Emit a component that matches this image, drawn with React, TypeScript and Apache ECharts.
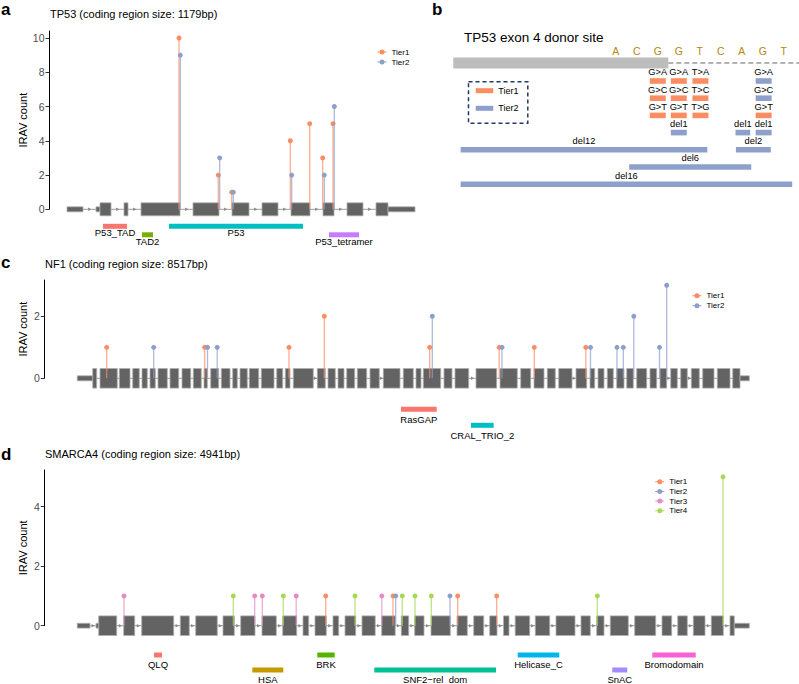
import React, { useEffect, useRef } from "react";
import * as echarts from "echarts";

const FONT = "'Liberation Sans', Arial, Helvetica, sans-serif";

const tierNames = ["Tier1", "Tier2", "Tier3", "Tier4"];
const tierColors = ["#FC8D62", "#8DA0CB", "#E78AC3", "#A6D854"];

// ---------- Panel a : TP53 (track units from gene start) ----------
const tp53Title = "TP53 (coding region size: 1179bp)";
const tp53Exons = [
  [0, 16, 1], [29, 33, 1], [33, 44, 0], [57, 61, 0], [74, 113, 0], [126, 152, 0], [165, 182, 0],
  [195, 211, 0], [224, 243, 0], [256, 267, 0], [280, 296, 0], [309, 321, 0], [321, 348, 1],
];
const tp53Tier1 = [[112, 10], [151.3, 2], [164.7, 1], [223.3, 4], [242.7, 5], [255.7, 3], [266, 5]];
const tp53Tier2 = [[113.3, 9], [152.7, 3], [166.3, 1], [224.7, 2], [257.3, 2], [267.3, 6]];
const tp53DomainNames = ["P53_TAD", "TAD2", "P53", "P53_tetramer"];
const tp53DomainRanges = [[36, 60], [75, 86], [102, 236], [262, 292]];
const tp53DomainColors = ["#F8766D", "#7CAE00", "#00BFC4", "#C77CFF"];
const tp53Ticks = [0, 2, 4, 6, 8, 10];

// ---------- Panel b : TP53 exon 4 donor site (nucleotide units, 0 = exon/intron boundary) ----------
const donorTitle = "TP53 exon 4 donor site";
const seqLetters = ["A", "C", "G", "G", "T", "C", "A", "G", "T"];
const seqPositions = [-2.5, -1.5, -0.5, 0.5, 1.5, 2.5, 3.5, 4.5, 5.5];
const exonBackbone = [-10.24, 0];
const intronBackbone = [0, 6.25];
// [start, end, track row]
const donorTier1Ranges = [
  [-0.88, -0.12, 0], [-0.88, -0.12, 1], [-0.88, -0.12, 2],
  [0.12, 0.88, 0], [0.12, 0.88, 1], [0.12, 0.88, 2],
  [1.15, 1.91, 0], [1.15, 1.91, 1], [1.15, 1.91, 2],
  [4.16, 4.92, 2],
];
const donorTier1Labels = ["G>A", "G>C", "G>T", "G>A", "G>C", "G>T", "T>A", "T>C", "T>G", "G>T"];
const donorTier2Ranges = [
  [4.16, 4.92, 0], [4.16, 4.92, 1],
  [0.12, 0.88, 3], [3.2, 3.9, 3], [4.16, 4.92, 3],
  [-9.89, 1.86, 4], [3.22, 4.88, 4],
  [-1.86, 3.95, 5],
  [-9.89, 5.9, 6],
];
const donorTier2Labels = ["G>A", "G>C", "del1", "del1", "del1", "del12", "del2", "del6", "del16"];

// ---------- Panel c : NF1 ----------
const nf1Title = "NF1 (coding region size: 8517bp)";
const nf1Exons = [
  [0, 15.4, 1], [15.4, 19.4, 0], [22.7, 40, 0], [42, 52.7, 0], [55.4, 62, 0], [64.7, 70, 0], [72.7, 78, 0],
  [80.7, 90, 0], [92.7, 101.4, 0], [104.7, 113.4, 0], [116, 124, 0], [126.7, 130, 0], [133.4, 141.4, 0],
  [144, 152.7, 0], [155.4, 160, 0], [162.7, 170, 0], [172, 181.4, 0], [184, 196.7, 0], [199.4, 205.4, 0],
  [208, 212.7, 0], [216, 236, 0], [240, 248, 0], [250.7, 258, 0], [260.7, 266.7, 0], [269.4, 277.4, 0],
  [280, 289.4, 0], [292.7, 302, 0], [306, 322.7, 0], [326, 336, 0], [338.7, 343.7, 0], [346, 363.4, 0],
  [366.7, 374.7, 0], [377.7, 391.4, 0], [398.7, 419.4, 0], [422.7, 440, 0], [443.4, 453.4, 0],
  [456.7, 466.7, 0], [470, 478, 0], [481.4, 494.7, 0], [498.7, 509.4, 0], [512.7, 517.4, 0],
  [520.7, 526.7, 0], [530, 536, 0], [539.4, 546.7, 0], [549.4, 556, 0], [559.4, 569.4, 0],
  [572.7, 579.4, 0], [582.7, 589.4, 0], [593.4, 600, 0], [603.4, 610, 0], [614, 622, 0],
  [625.4, 636.7, 0], [640, 652.7, 0], [655.4, 662.7, 0], [662.7, 672, 1],
];
const nf1Tier1 = [[29.4, 1], [127.4, 1], [211.7, 1], [247, 2], [352.4, 1], [421.9, 1], [457, 1], [508.5, 1]];
const nf1Tier2 = [[76.4, 1], [130.2, 1], [139.9, 1], [355, 2], [424.7, 1], [513.2, 1], [539.7, 1], [546, 1], [556.5, 2], [582.2, 1], [589.4, 3]];
const nf1DomainNames = ["RasGAP", "CRAL_TRIO_2"];
const nf1DomainRanges = [[323.7, 359.4], [393.7, 416.4]];
const nf1DomainColors = ["#F8766D", "#00BFC4"];
const nf1Ticks = [0, 2];

// ---------- Panel d : SMARCA4 ----------
const smarcaTitle = "SMARCA4 (coding region size: 4941bp)";
const smarcaExons = [
  [0, 12.7, 1], [18.7, 21.4, 1], [21.4, 39.4, 0], [46.4, 57.4, 0], [64.4, 96.4, 0], [103, 112, 0],
  [118.4, 140, 0], [145.7, 157, 0], [163.4, 177.7, 0], [184.7, 199, 0], [205.4, 219.4, 0],
  [225.7, 231.4, 0], [237.7, 249, 0], [255.7, 261.4, 0], [267.7, 278.4, 0], [284.7, 297.9, 0],
  [304.4, 317.9, 0], [324, 331.4, 0], [337.4, 346.7, 0], [353.7, 373, 0], [379.7, 390, 0],
  [396.4, 406.4, 0], [412.4, 419.7, 0], [426.2, 431.7, 0], [437.9, 452.4, 0], [458, 472.4, 0],
  [478.7, 497.7, 0], [503.7, 513, 0], [519.4, 526.7, 0], [533, 551, 0], [557.4, 578.4, 0],
  [584.7, 594.4, 0], [600.4, 610, 0], [616, 627.7, 0], [634, 646, 0], [652.7, 657, 0], [657, 672, 1],
];
const smarcaTier1 = [[248.4, 1], [315.7, 1], [380.4, 1], [419.4, 1]];
const smarcaTier2 = [[318.4, 1], [372.7, 1]];
const smarcaTier3 = [[46.7, 1], [177.4, 1], [185, 1], [218.9, 1], [304.5, 1]];
const smarcaTier4 = [[156, 1], [206, 1], [277.7, 1], [325, 1], [337.7, 1], [354, 1], [520, 1], [645.7, 5]];
const smarcaDomainNames = ["QLQ", "HSA", "BRK", "SNF2\u2212rel_dom", "Helicase_C", "SnAC", "Bromodomain"];
const smarcaDomainRanges = [[76.7, 84.7], [175, 206], [240, 257.4], [297, 418.7], [440.4, 482], [535, 550], [575, 618.4]];
const smarcaDomainColors = ["#F8766D", "#C49A00", "#53B400", "#00C094", "#00B6EB", "#A58AFF", "#FB61D7"];
const smarcaTicks = [0, 2, 4];

const LOLLI_ICON = "path://M0,2H9V3H0Z M2,2.5A2.5,2.5,0,1,1,7,2.5A2.5,2.5,0,1,1,2,2.5Z";

function intronSeries(gi: number, exons: number[][]) {
  const first = exons[0][0];
  const last = exons[exons.length - 1][1];
  return {
    type: "custom", xAxisIndex: gi, yAxisIndex: gi, silent: true, z: 1,
    data: [[first, last, 0]], encode: { x: [0, 1], y: 2 },
    renderItem: (params: any, api: any) => {
      const a = api.coord([api.value(0), 0]);
      const b = api.coord([api.value(1), 0]);
      const children: any[] = [
        { type: "line", shape: { x1: a[0], y1: a[1], x2: b[0], y2: b[1] }, style: { stroke: "#9c9c9c", lineWidth: 1 } },
      ];
      for (let i = 0; i < exons.length - 1; i++) {
        const g0 = exons[i][1];
        const g1 = exons[i + 1][0];
        if (g1 - g0 < 4) continue;
        const m = api.coord([(g0 + g1) / 2, 0]);
        children.push({
          type: "polygon",
          shape: { points: [[m[0] - 1.4, m[1] - 1.8], [m[0] + 1.8, m[1]], [m[0] - 1.4, m[1] + 1.8]] },
          style: { fill: "#8a8a8a" },
        });
      }
      return { type: "group", children };
    },
  };
}

function exonSeries(gi: number, exons: number[][], fullH: number, utrH: number) {
  return {
    type: "custom", xAxisIndex: gi, yAxisIndex: gi, silent: true, z: 2,
    data: exons, encode: { x: [0, 1], y: 2 },
    renderItem: (params: any, api: any) => {
      const s = api.coord([api.value(0), 0]);
      const e = api.coord([api.value(1), 0]);
      const h = api.value(2) ? utrH : fullH;
      return {
        type: "rect",
        shape: { x: s[0], y: s[1] - h / 2, width: e[0] - s[0], height: h },
        style: { fill: "#636363", stroke: "#adadad", lineWidth: 0.8 },
      };
    },
  };
}

function domainSeries(gi: number, names: string[], ranges: number[][], colors: string[], barOff: number, rowStep: number, labelOff: number) {
  return {
    type: "custom", xAxisIndex: gi, yAxisIndex: gi, silent: true, z: 2,
    data: ranges.map((r, i) => [r[0], r[1], i % 2]), encode: { x: [0, 1], y: 2 },
    renderItem: (params: any, api: any) => {
      const i = params.dataIndex;
      const s = api.coord([api.value(0), 0]);
      const e = api.coord([api.value(1), 0]);
      const y = s[1] + barOff + api.value(2) * rowStep;
      return {
        type: "group",
        children: [
          { type: "rect", shape: { x: s[0], y: y - 2.5, width: e[0] - s[0], height: 5 }, style: { fill: colors[i] } },
          {
            type: "text", x: (s[0] + e[0]) / 2, y: y + labelOff,
            style: { text: names[i], align: "center", verticalAlign: "middle", fontSize: 9.5, fontFamily: FONT, fill: "#000" },
          },
        ],
      };
    },
  };
}

function lolliSeries(gi: number, tier: number, pts: number[][]) {
  return {
    type: "custom", name: tierNames[tier], xAxisIndex: gi, yAxisIndex: gi, z: 5,
    itemStyle: { color: tierColors[tier] },
    data: pts, encode: { x: 0, y: 1 },
    renderItem: (params: any, api: any) => {
      const x = api.value(0);
      const p0 = api.coord([x, 0]);
      const p1 = api.coord([x, api.value(1)]);
      const c = tierColors[tier];
      return {
        type: "group",
        children: [
          { type: "line", shape: { x1: p0[0], y1: p0[1], x2: p1[0], y2: p1[1] }, style: { stroke: c, lineWidth: 1.3, opacity: 0.72 } },
          { type: "circle", shape: { cx: p1[0], cy: p1[1], r: 2.5 }, style: { fill: c } },
        ],
      };
    },
  };
}

function donorVariantSeries(tier: number, ranges: number[][], labels: string[]) {
  return {
    type: "custom", name: tierNames[tier], xAxisIndex: 3, yAxisIndex: 3, z: 4,
    itemStyle: { color: tierColors[tier] },
    data: ranges, encode: { x: [0, 1], y: 2 },
    renderItem: (params: any, api: any) => {
      const s = api.coord([api.value(0), api.value(2)]);
      const e = api.coord([api.value(1), api.value(2)]);
      return {
        type: "group",
        children: [
          { type: "rect", shape: { x: s[0], y: s[1] - 2.8, width: e[0] - s[0], height: 5.6 }, style: { fill: tierColors[tier] } },
          {
            type: "text", x: (s[0] + e[0]) / 2, y: s[1] - 8.6,
            style: { text: labels[params.dataIndex], align: "center", verticalAlign: "middle", fontSize: 9.3, fontFamily: FONT, fill: "#000" },
          },
        ],
      };
    },
  };
}

function lolliYAxis(gi: number, max: number, ticks: number[], nameGap: number) {
  return {
    type: "value", gridIndex: gi, min: 0, max,
    name: "IRAV count", nameLocation: "middle", nameGap, nameRotate: 90, nameMoveOverlap: false,
    nameTextStyle: { fontSize: 11, color: "#000", fontFamily: FONT },
    axisLine: { show: true, onZero: false, lineStyle: { color: "#000", width: 1 } },
    axisTick: { show: true, length: 3.5, lineStyle: { color: "#333", width: 1 }, customValues: ticks },
    axisLabel: { show: true, fontSize: 10.5, color: "#4d4d4d", margin: 4.5, fontFamily: FONT, customValues: ticks },
    splitLine: { show: false },
  };
}

function legendFor(names: string[], left: number, top: number, gap: number) {
  return {
    data: names.map((n) => ({ name: n, icon: LOLLI_ICON })),
    orient: "vertical", left, top, padding: 0, itemWidth: 9, itemHeight: 5, itemGap: gap,
    selectedMode: false,
    textStyle: { fontSize: 8, color: "#000", fontFamily: FONT },
  };
}

function buildOption(): any {
  const titleBase = (text: string, left: number, top: number, fontSize: number, bold: boolean) => ({
    text, left, top, padding: 0,
    textStyle: { fontSize, fontWeight: bold ? "bold" : "normal", color: "#000", fontFamily: FONT },
  });
  return {
    animation: false,
    textStyle: { fontFamily: FONT },
    title: [
      titleBase("a", 1, 1, 17, true),
      titleBase(tp53Title, 50, 8.7, 11, false),
      titleBase("b", 432, 1, 17, true),
      titleBase(donorTitle, 464, 30, 13.5, false),
      titleBase("c", 1, 254, 17, true),
      titleBase(nf1Title, 45, 258.7, 11, false),
      titleBase("d", 1, 446, 17, true),
      titleBase(smarcaTitle, 45, 448.2, 11, false),
    ],
    legend: [
      legendFor(["Tier1", "Tier2"], 377.5, 48, 2),
      legendFor(["Tier1", "Tier2"], 692.5, 291.7, 2),
      legendFor(["Tier1", "Tier2", "Tier3", "Tier4"], 655.3, 477.7, 1.7),
      {
        data: ["Tier1", "Tier2"], icon: "rect", orient: "vertical", left: 475.7, top: 86.2, padding: 0,
        itemWidth: 17.6, itemHeight: 5, itemGap: 8.6, selectedMode: false,
        textStyle: { fontSize: 9, color: "#000", fontFamily: FONT },
      },
    ],
    graphic: [
      {
        type: "rect", left: 466, top: 79.3, silent: true,
        shape: { width: 59.3, height: 41.4 },
        style: { fill: "none", stroke: "#1F3A68", lineWidth: 1.5, lineDash: [4, 3] },
      },
    ],
    grid: [
      { left: 49, top: 31, width: 366, height: 178.3, outerBoundsMode: "none" },
      { left: 44.3, top: 280, width: 706, height: 98.3, outerBoundsMode: "none" },
      { left: 44.3, top: 470, width: 706, height: 155.7, outerBoundsMode: "none" },
      { left: 447.8, top: 38, width: 351.75, height: 163.4, outerBoundsMode: "none" },
    ],
    xAxis: [
      { type: "value", gridIndex: 0, min: -18, max: 348, show: false },
      { type: "value", gridIndex: 1, min: -33, max: 673, show: false },
      { type: "value", gridIndex: 2, min: -33, max: 673, show: false },
      { type: "value", gridIndex: 3, min: -10.5, max: 6.25, show: false },
    ],
    yAxis: [
      lolliYAxis(0, 10.41, tp53Ticks, 20.5),
      lolliYAxis(1, 3.17, nf1Ticks, 16),
      lolliYAxis(2, 5.23, smarcaTicks, 16),
      { type: "value", gridIndex: 3, min: -2.5, max: 7, inverse: true, show: false },
    ],
    series: [
      // panel a
      intronSeries(0, tp53Exons),
      exonSeries(0, tp53Exons, 13, 5),
      domainSeries(0, tp53DomainNames, tp53DomainRanges, tp53DomainColors, 17, 8.5, 6.5),
      lolliSeries(0, 0, tp53Tier1),
      lolliSeries(0, 1, tp53Tier2),
      // panel c
      intronSeries(1, nf1Exons),
      exonSeries(1, nf1Exons, 19.6, 5),
      domainSeries(1, nf1DomainNames, nf1DomainRanges, nf1DomainColors, 31, 16, 9.7),
      lolliSeries(1, 0, nf1Tier1),
      lolliSeries(1, 1, nf1Tier2),
      // panel d
      intronSeries(2, smarcaExons),
      exonSeries(2, smarcaExons, 19.6, 4.8),
      domainSeries(2, smarcaDomainNames, smarcaDomainRanges, smarcaDomainColors, 29.3, 15, 9.3),
      lolliSeries(2, 0, smarcaTier1),
      lolliSeries(2, 1, smarcaTier2),
      lolliSeries(2, 2, smarcaTier3),
      lolliSeries(2, 3, smarcaTier4),
      // panel b
      {
        type: "custom", xAxisIndex: 3, yAxisIndex: 3, silent: true, z: 1,
        data: [[exonBackbone[0], exonBackbone[1], intronBackbone[1]]], encode: { x: [0, 1, 2] },
        renderItem: (params: any, api: any) => {
          const a = api.coord([api.value(0), -1.05]);
          const b = api.coord([api.value(1), -1.05]);
          const c = api.coord([api.value(2), -1.05]);
          return {
            type: "group",
            children: [
              { type: "rect", shape: { x: a[0], y: a[1] - 5.5, width: b[0] - a[0], height: 11 }, style: { fill: "#bdbdbd" } },
              { type: "line", shape: { x1: b[0], y1: b[1], x2: c[0], y2: c[1] }, style: { stroke: "#9a9a9a", lineWidth: 1.4, lineDash: [5, 3] } },
            ],
          };
        },
      },
      {
        type: "custom", xAxisIndex: 3, yAxisIndex: 3, silent: true, z: 3,
        data: seqPositions.map((p) => [p, -1.72]), encode: { x: 0, y: 1 },
        renderItem: (params: any, api: any) => {
          const p = api.coord([api.value(0), api.value(1)]);
          return {
            type: "text", x: p[0], y: p[1],
            style: { text: seqLetters[params.dataIndex], align: "center", verticalAlign: "middle", fontSize: 10.5, fontFamily: FONT, fill: "#B8860B" },
          };
        },
      },
      donorVariantSeries(0, donorTier1Ranges, donorTier1Labels),
      donorVariantSeries(1, donorTier2Ranges, donorTier2Labels),
    ],
  };
}

export default function App() {
  const ref = useRef<HTMLDivElement>(null);
  useEffect(() => {
    document.body.style.margin = "0";
    const chart = echarts.init(ref.current as HTMLDivElement, null, { renderer: "svg" });
    chart.setOption(buildOption());
    return () => chart.dispose();
  }, []);
  return <div ref={ref} style={{ width: 799, height: 684 }} />;
}
